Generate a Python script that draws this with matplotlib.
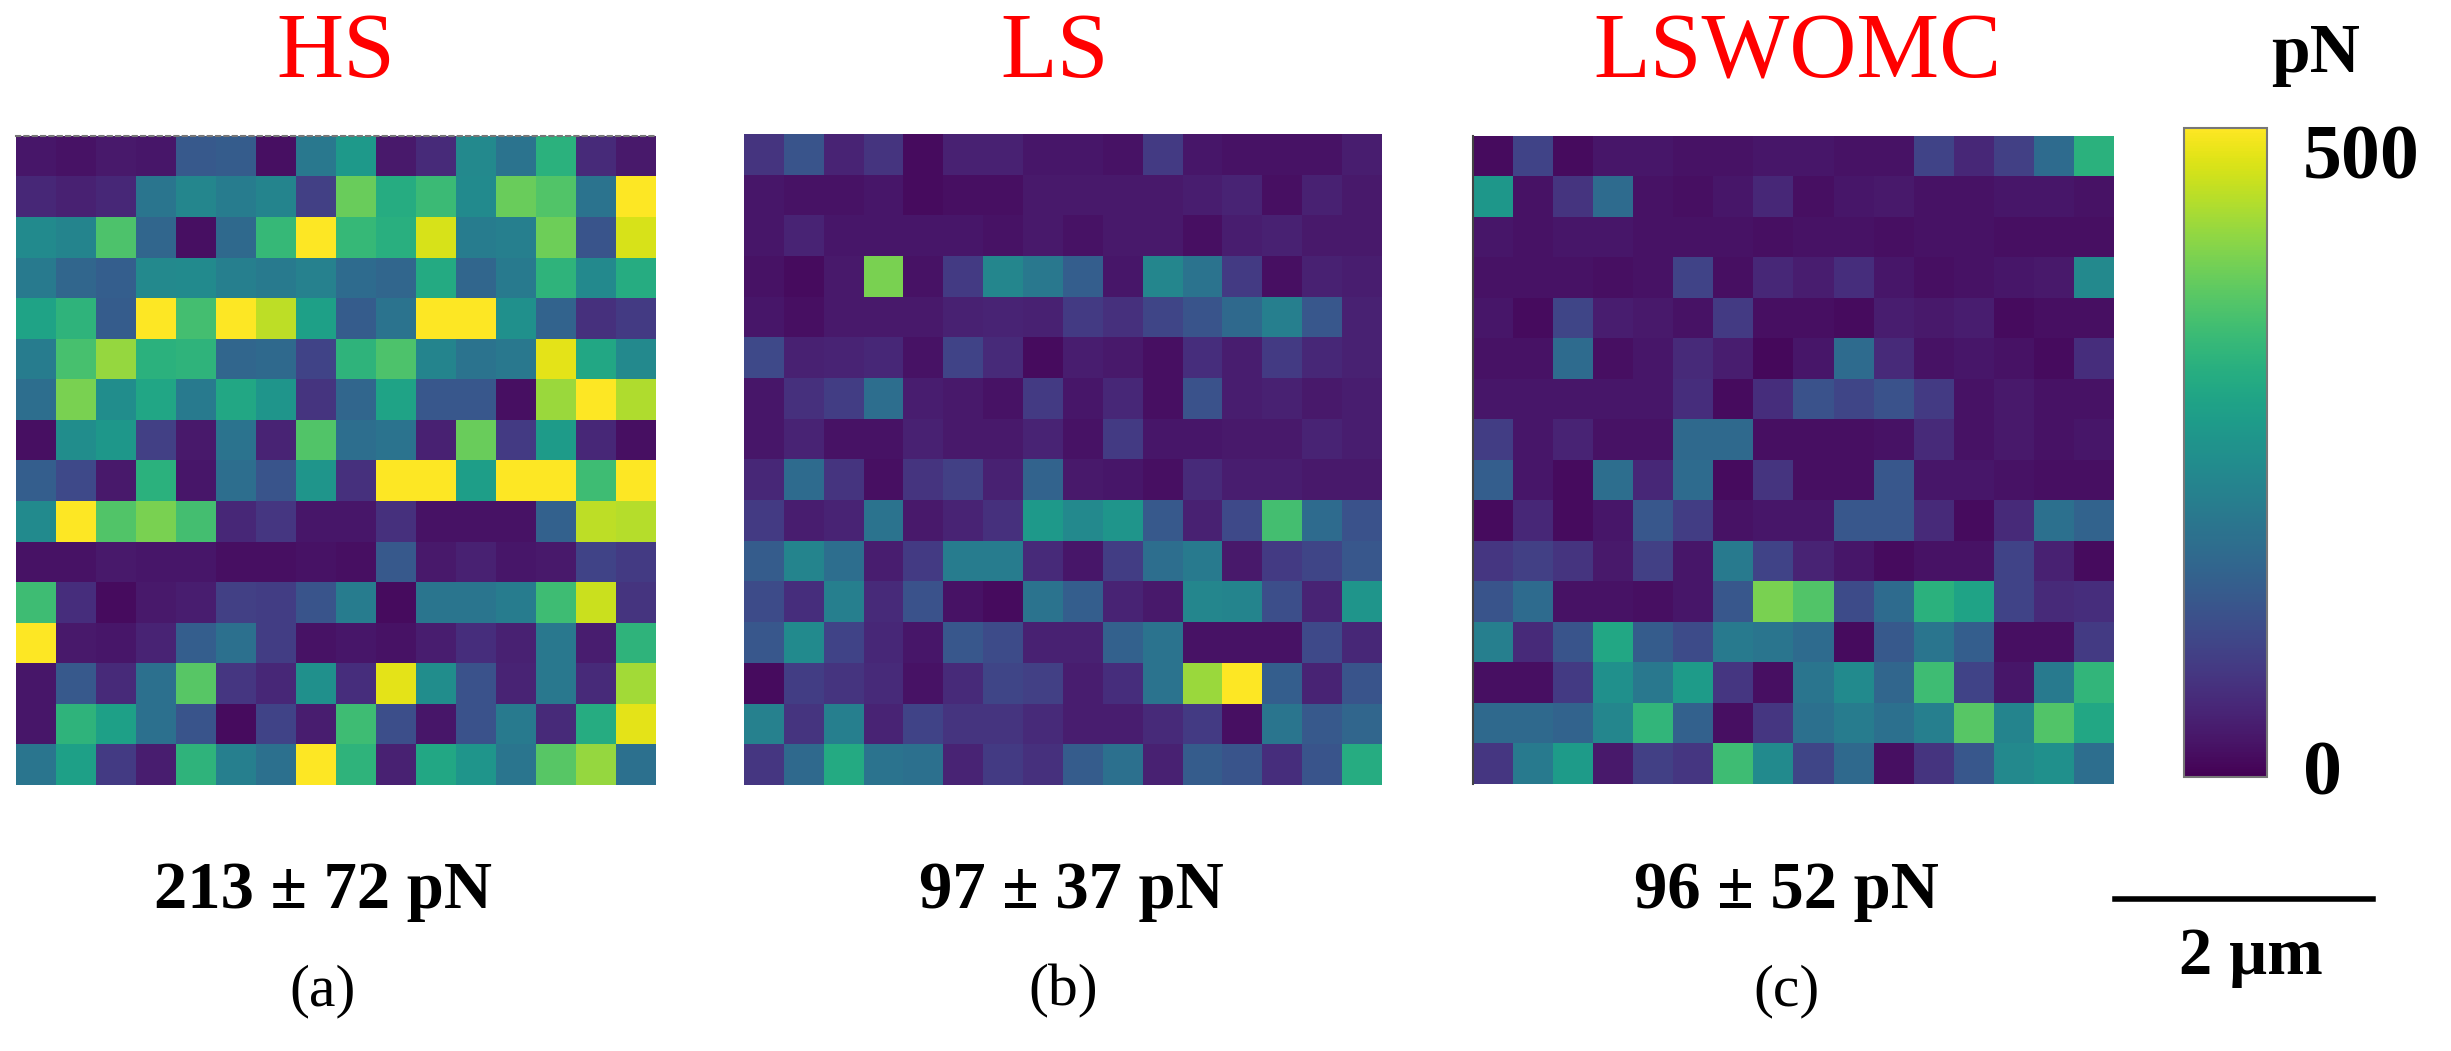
import matplotlib
matplotlib.use("Agg")
import matplotlib.pyplot as plt
import numpy as np
from matplotlib.lines import Line2D

W, H = 2451, 1051

titles = ["HS", "LS", "LSWOMC"]
means = ["213 ± 72 pN", "97 ± 37 pN", "96 ± 52 pN"]
letters = ["(a)", "(b)", "(c)"]

# force maps, values (pN)
hs = [
    [30, 25, 35, 30, 140, 145, 20, 200, 270, 35, 60, 235, 190, 320, 60, 35],
    [55, 45, 55, 195, 230, 210, 225, 95, 385, 310, 340, 240, 385, 365, 190, 500],
    [240, 225, 360, 165, 20, 170, 335, 500, 335, 315, 470, 210, 215, 390, 130, 470],
    [205, 165, 150, 235, 240, 215, 205, 220, 175, 165, 305, 165, 205, 325, 235, 310],
    [290, 325, 145, 500, 350, 500, 450, 285, 145, 190, 500, 500, 250, 160, 70, 85],
    [210, 355, 420, 320, 325, 165, 170, 100, 325, 360, 225, 190, 200, 480, 300, 235],
    [180, 400, 245, 295, 205, 300, 260, 75, 165, 290, 135, 135, 20, 425, 500, 440],
    [20, 245, 265, 95, 35, 190, 50, 365, 180, 190, 45, 385, 85, 275, 55, 20],
    [150, 110, 35, 320, 30, 180, 130, 260, 70, 500, 500, 280, 500, 500, 345, 500],
    [240, 500, 365, 400, 350, 55, 80, 30, 30, 70, 25, 25, 25, 155, 450, 445],
    [25, 25, 35, 30, 30, 20, 20, 25, 20, 140, 35, 45, 30, 35, 100, 85],
    [345, 65, 15, 35, 40, 95, 90, 130, 210, 15, 195, 195, 210, 345, 460, 75],
    [500, 35, 30, 50, 150, 185, 90, 25, 30, 25, 40, 65, 45, 200, 40, 325],
    [30, 140, 60, 185, 370, 80, 55, 250, 65, 480, 245, 125, 50, 200, 60, 430],
    [30, 325, 285, 185, 130, 15, 100, 40, 345, 120, 30, 125, 205, 60, 310, 480],
    [195, 285, 85, 40, 325, 215, 185, 500, 325, 45, 300, 260, 195, 370, 420, 185],
]
ls = [
    [75, 130, 50, 75, 15, 45, 45, 30, 30, 25, 85, 30, 25, 25, 25, 40],
    [30, 25, 25, 30, 15, 20, 20, 35, 35, 35, 35, 40, 50, 20, 45, 35],
    [30, 50, 30, 30, 30, 30, 25, 35, 25, 35, 35, 20, 40, 45, 35, 35],
    [25, 15, 35, 400, 25, 85, 230, 200, 150, 30, 230, 190, 85, 20, 45, 40],
    [30, 20, 35, 35, 35, 45, 50, 45, 85, 70, 105, 130, 170, 215, 135, 45],
    [110, 45, 50, 55, 25, 100, 60, 15, 40, 35, 20, 65, 40, 85, 55, 45],
    [30, 70, 90, 180, 40, 35, 25, 85, 30, 55, 20, 125, 40, 45, 35, 40],
    [30, 50, 25, 25, 45, 35, 35, 50, 25, 85, 30, 30, 35, 35, 50, 40],
    [55, 175, 75, 20, 75, 95, 45, 160, 35, 30, 20, 60, 40, 40, 35, 35],
    [85, 40, 50, 190, 35, 50, 70, 270, 235, 260, 140, 45, 110, 350, 175, 125],
    [145, 225, 180, 40, 85, 210, 210, 60, 30, 90, 180, 205, 35, 85, 105, 135],
    [115, 65, 215, 60, 125, 25, 15, 190, 150, 50, 35, 230, 225, 120, 50, 260],
    [135, 240, 100, 55, 30, 135, 115, 45, 45, 155, 190, 25, 25, 25, 110, 55],
    [15, 90, 75, 60, 25, 60, 105, 95, 40, 65, 190, 425, 500, 150, 50, 130],
    [220, 75, 215, 50, 100, 75, 75, 60, 40, 40, 60, 85, 20, 195, 140, 165],
    [80, 170, 305, 190, 185, 50, 85, 70, 145, 185, 45, 145, 130, 65, 130, 310],
]
lswomc = [
    [15, 100, 15, 30, 30, 25, 25, 30, 30, 25, 25, 100, 55, 95, 175, 320],
    [265, 25, 75, 175, 25, 20, 30, 55, 20, 30, 35, 25, 25, 30, 30, 25],
    [30, 25, 30, 30, 25, 25, 25, 20, 25, 25, 20, 25, 25, 20, 20, 20],
    [25, 25, 25, 20, 25, 100, 20, 55, 40, 65, 30, 20, 25, 30, 35, 235],
    [30, 15, 105, 40, 35, 25, 85, 20, 20, 15, 40, 35, 40, 15, 20, 20],
    [25, 25, 175, 20, 30, 60, 40, 10, 30, 175, 60, 25, 30, 25, 15, 65],
    [30, 30, 30, 30, 30, 65, 15, 65, 125, 105, 125, 85, 25, 35, 25, 25],
    [90, 30, 50, 25, 25, 170, 170, 20, 20, 20, 25, 60, 25, 35, 25, 30],
    [150, 30, 15, 180, 55, 175, 15, 75, 20, 20, 135, 30, 30, 25, 20, 20],
    [15, 55, 15, 30, 135, 90, 25, 30, 30, 135, 135, 60, 15, 60, 185, 160],
    [80, 95, 75, 35, 95, 30, 205, 100, 50, 30, 15, 25, 25, 100, 45, 15],
    [130, 175, 25, 25, 20, 30, 135, 400, 365, 115, 175, 320, 290, 100, 60, 65],
    [215, 60, 130, 300, 145, 115, 205, 195, 175, 15, 140, 195, 150, 20, 20, 85],
    [20, 20, 85, 250, 200, 275, 80, 20, 195, 240, 165, 345, 100, 30, 205, 330],
    [170, 170, 160, 230, 330, 155, 20, 80, 185, 210, 185, 215, 370, 225, 365, 300],
    [80, 205, 275, 35, 95, 80, 345, 240, 105, 170, 20, 75, 135, 235, 250, 180],
]

plt.rcParams["font.family"] = "Liberation Serif"

fig = plt.figure(figsize=(W / 100, H / 100), dpi=100)


# pixel box of the reference -> figure axes
def px_axes(x0, y0, x1, y1):
    return fig.add_axes([x0 / W, 1 - y1 / H, (x1 - x0) / W, (y1 - y0) / H])


def px_text(x, y, s, **kw):
    kw.setdefault("ha", "center")
    fig.text(x / W, 1 - y / H, s, va="center", **kw)


boxes = [(16, 136, 656, 785), (744, 134, 1382, 785), (1473, 136, 2114, 784)]
title_x = [336, 1055, 1797]
mean_x = [323, 1071, 1786]
letter_x = [323, 1063, 1786]

for i, data in enumerate([hs, ls, lswomc]):
    ax = px_axes(*boxes[i])
    im = ax.imshow(np.array(data), cmap="viridis", vmin=0, vmax=500,
                   aspect="auto", interpolation="nearest")
    ax.set_xticks([])
    ax.set_yticks([])
    for s in ax.spines.values():
        s.set_visible(False)
    if i == 0:
        ax.spines["top"].set_visible(True)
        ax.spines["top"].set_color("#777777")
        ax.spines["top"].set_linestyle((0, (2, 2)))
        ax.spines["top"].set_linewidth(1.5)
    if i == 2:
        ax.spines["left"].set_visible(True)
        ax.spines["left"].set_color("#444444")
        ax.spines["left"].set_linewidth(1.5)

    px_text(title_x[i], 55, titles[i], color="red", fontsize=67)
    px_text(mean_x[i], 892, means[i], fontweight="bold", fontsize=48)
    px_text(letter_x[i], 991, letters[i], fontsize=43)

# colour bar
cax = px_axes(2184, 128, 2267, 777)
cb = fig.colorbar(im, cax=cax)
cb.set_ticks([])
cb.outline.set_edgecolor("#777777")
cb.outline.set_linewidth(1.5)

px_text(2316, 55, "pN", fontweight="bold", fontsize=50)
px_text(2303, 160, "500", ha="left", fontweight="bold", fontsize=56)
px_text(2303, 776, "0", ha="left", fontweight="bold", fontsize=56)

# scale bar
fig.add_artist(Line2D([2115 / W, 2373 / W], [1 - 899 / H, 1 - 899 / H],
                      color="black", linewidth=4))
px_text(2251, 957, "2 µm", fontweight="bold", fontsize=48)

fig.savefig("out.png", dpi=100)
